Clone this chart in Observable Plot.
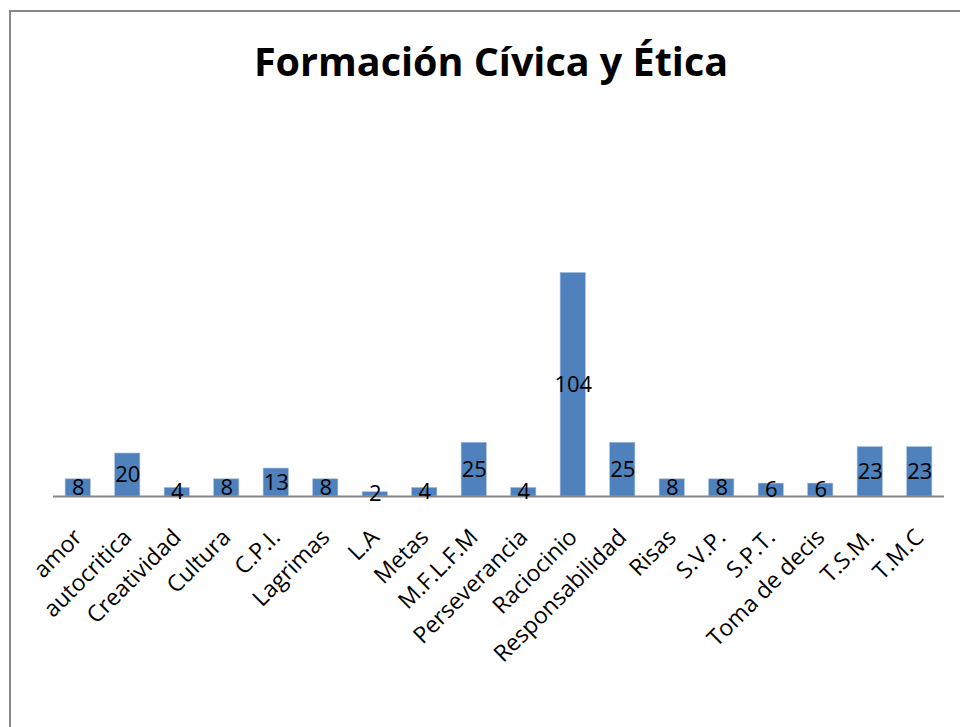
<!DOCTYPE html>
<html>
<head>
<meta charset="utf-8">
<script src="https://cdn.jsdelivr.net/npm/d3@7"></script>
<script src="https://cdn.jsdelivr.net/npm/@observablehq/plot@0.6"></script>
<style>
  html, body { margin: 0; padding: 0; background: #fff; overflow: hidden; }
  #frame { position: absolute; left: 9px; top: 10px; width: 1000px; height: 800px; border: 2px solid #888; box-sizing: border-box; }
  #title { position: absolute; left: 0; top: 38px; width: 982px; text-align: center; font-family: "Open Sans", sans-serif; font-weight: bold; font-size: 39.5px; line-height: 1.2; color: #000; }
  #chart { position: absolute; left: 0; top: 200px; }
</style>
</head>
<body>
<div id="frame"></div>
<div id="title">Formación Cívica y Ética</div>
<div id="chart"></div>
<script>
const categories = ["amor","autocritica","Creatividad","Cultura","C.P.I.","Lagrimas","L.A","Metas","M.F.L.F.M","Perseverancia","Raciocinio","Responsabilidad","Risas","S.V.P.","S.P.T.","Toma de decis","T.S.M.","T.M.C"];
const values = [8,20,4,8,13,8,2,4,25,4,104,25,8,8,6,6,23,23];

const data = categories.map((c, i) => ({category: c, value: values[i]}));

const chart = Plot.plot({
  width: 960,
  height: 480,
  marginLeft: 53,
  marginRight: 16,
  marginTop: 38,
  marginBottom: 184,
  style: {fontFamily: "'Open Sans', sans-serif", fontSize: "23px", color: "#000", background: "transparent"},
  x: {domain: categories, paddingInner: 0.49, paddingOuter: 0.245, round: false, label: null},
  y: {domain: [0, 120], axis: null},
  marks: [
    Plot.barY(data, {x: "category", y: "value", fill: "#4F81BD", stroke: "#a8c0e0", strokeWidth: 0.6}),
    Plot.ruleY([0], {stroke: "#868686", strokeWidth: 2}),
    Plot.text(data, {x: "category", y: d => d.value / 2, text: d => String(d.value), fill: "#000", fontSize: 22}),
    Plot.axisX({tickRotate: -45, tickSize: 0, tickPadding: 37, label: null, fontSize: 23, fill: "#000"})
  ]
});
document.getElementById("chart").appendChild(chart);
</script>
</body>
</html>
